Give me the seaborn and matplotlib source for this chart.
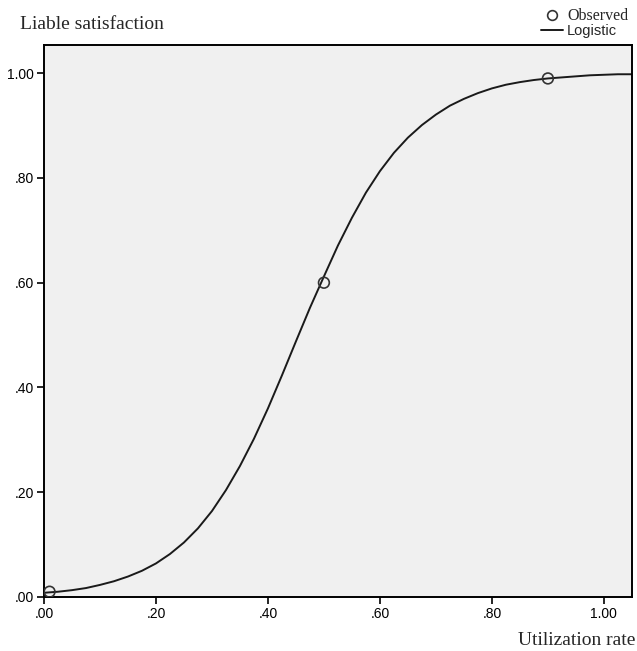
import numpy as np
import pandas as pd
import seaborn as sns
import matplotlib.pyplot as plt
from matplotlib.ticker import FuncFormatter
from matplotlib.lines import Line2D

# observed points
obs_x = [0.01, 0.50, 0.90]
obs_y = [0.01, 0.60, 0.99]

# logistic fit curve
fit_x = [0.000, 0.025, 0.050, 0.075, 0.100, 0.125, 0.150, 0.175, 0.200, 0.225,
         0.250, 0.275, 0.300, 0.325, 0.350, 0.375, 0.400, 0.425, 0.450, 0.475,
         0.500, 0.525, 0.550, 0.575, 0.600, 0.625, 0.650, 0.675, 0.700, 0.725,
         0.750, 0.775, 0.800, 0.825, 0.850, 0.875, 0.900, 0.925, 0.950, 0.975,
         1.000, 1.025, 1.050]
fit_y = [0.008, 0.010, 0.013, 0.017, 0.023, 0.030, 0.039, 0.050, 0.064, 0.082,
         0.104, 0.131, 0.164, 0.204, 0.250, 0.302, 0.360, 0.423, 0.488, 0.552,
         0.612, 0.671, 0.724, 0.772, 0.813, 0.848, 0.877, 0.901, 0.921, 0.938,
         0.951, 0.962, 0.971, 0.978, 0.983, 0.987, 0.990, 0.992, 0.994, 0.996,
         0.997, 0.998, 0.998]

x_ticks = [0.0, 0.2, 0.4, 0.6, 0.8, 1.0]
y_ticks = [0.0, 0.2, 0.4, 0.6, 0.8, 1.0]

obs_df = pd.DataFrame({"x": obs_x, "y": obs_y})
fit_df = pd.DataFrame({"x": fit_x, "y": fit_y})

sns.set_style("ticks", {"axes.facecolor": "#f0f0f0", "axes.edgecolor": "black"})
plt.rcParams['font.family'] = ['Liberation Sans', 'DejaVu Sans']

fig = plt.figure(figsize=(6.37, 6.51), dpi=100)
ax = fig.add_axes([0.069, 0.083, 0.923, 0.848])

sns.lineplot(data=fit_df, x="x", y="y", ax=ax, color="#1a1a1a", linewidth=1.4)
sns.scatterplot(data=obs_df, x="x", y="y", ax=ax, s=60, marker="o",
                facecolor="none", edgecolor="#333333", linewidth=1.2, zorder=3)

ax.set_xlim(0, 1.05)
ax.set_ylim(0, 1.054)
ax.set_xticks(x_ticks)
ax.set_yticks(y_ticks)

def fmt(v, pos):
    s = f"{v:.2f}"
    return s[1:] if s.startswith("0") else s

ax.xaxis.set_major_formatter(FuncFormatter(fmt))
ax.yaxis.set_major_formatter(FuncFormatter(fmt))
ax.tick_params(direction="out", length=5, width=1.2, labelsize=10, colors="black",
               pad=2)
for sp in ax.spines.values():
    sp.set_linewidth(1.4)

ax.set_xlabel("")
ax.set_ylabel("")
fig.text(0.998, 0.003, "Utilization rate", ha="right", va="bottom",
         fontsize=14, family="Liberation Serif")
fig.text(0.031, 0.962, "Liable satisfaction", ha="left", va="center",
         fontsize=14, family="Liberation Serif")

handles = [
    Line2D([], [], linestyle="none", marker="o", markerfacecolor="none",
           markeredgecolor="#333333", markeredgewidth=1.2, markersize=7),
    Line2D([], [], color="#1a1a1a", linewidth=1.4),
]
leg = fig.legend(handles, ["Observed", "Logistic"], loc="upper right",
                 bbox_to_anchor=(1.002, 1.004), frameon=False, fontsize=10.5,
                 handlelength=1.5, handletextpad=0.3, labelspacing=0.0,
                 borderpad=0.2)
leg.get_texts()[0].set_fontfamily("Liberation Serif")
leg.get_texts()[0].set_fontsize(11.5)

fig.savefig("out.png", dpi=100)
